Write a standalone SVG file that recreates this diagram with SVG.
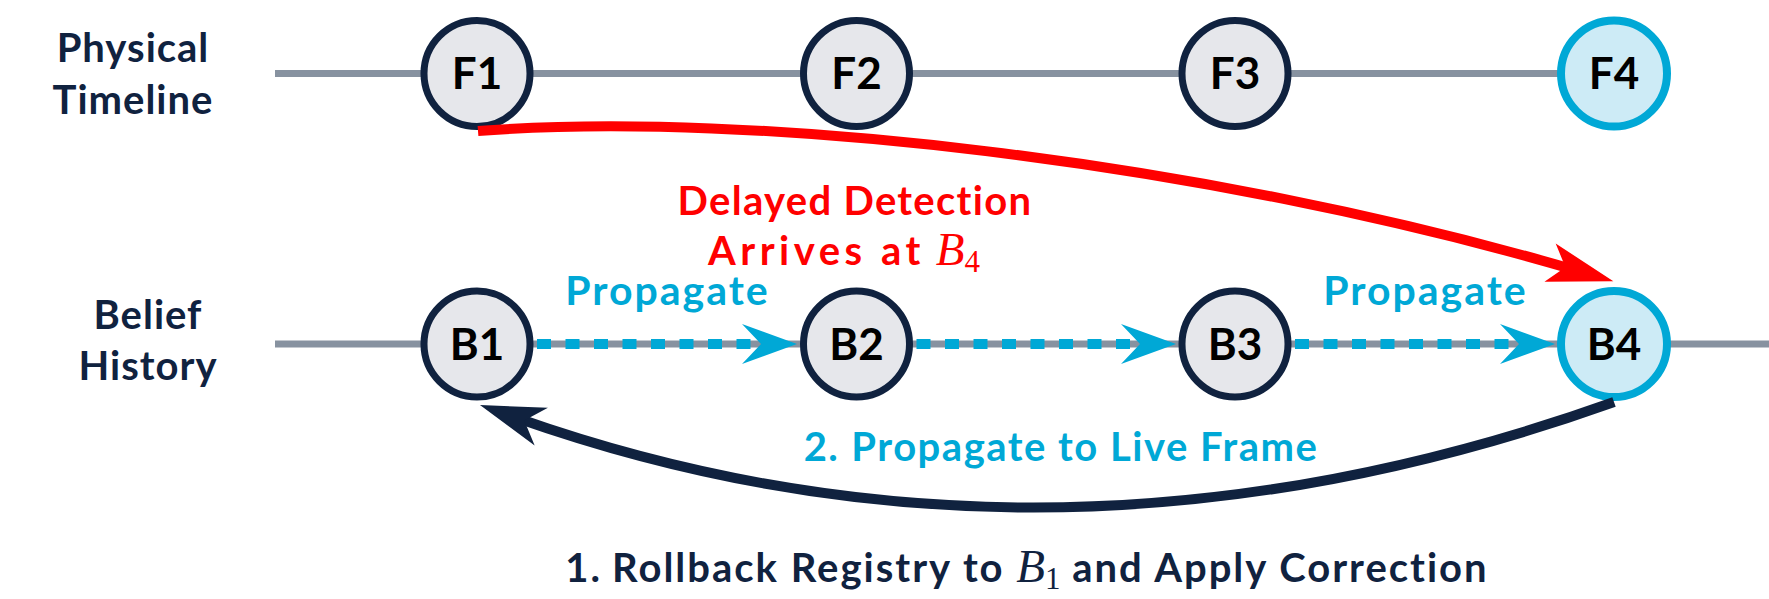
<svg xmlns="http://www.w3.org/2000/svg" width="1769" height="599" viewBox="0 0 1769 599">
  <style>
    .lbl { font-family: Lato, "Liberation Sans", sans-serif; font-weight: 700; }
    .side { font-size: 40px; fill: #10223f; text-anchor: middle; letter-spacing: 1px; }
    .node { font-size: 44px; fill: #000; text-anchor: middle; }
    .blue { font-size: 41px; fill: #00a8d6; text-anchor: middle; letter-spacing: 2px; }
    .blue2 { font-size: 40px; fill: #00a8d6; text-anchor: middle; letter-spacing: 1.5px; }
    .red { font-size: 40px; fill: #ff0000; text-anchor: middle; letter-spacing: 1.3px; }
    .dark { font-size: 40px; fill: #10223f; text-anchor: middle; letter-spacing: 2px; }
    .math { font-family: "Liberation Serif", "DejaVu Serif", serif; font-style: italic; font-weight: 400; font-size: 47px; letter-spacing: 0; }
    .sub { font-family: "Liberation Serif", "DejaVu Serif", serif; font-style: normal; font-weight: 400; font-size: 31px; letter-spacing: 0; }
    .circ { fill: #e6e7eb; stroke: #10223f; stroke-width: 7; }
    .circ.hl { fill: #cdebf6; stroke: #00a8d6; stroke-width: 8; }
    .base { stroke: #8792a0; stroke-width: 7; fill: none; }
    .dash { stroke: #00a8d6; stroke-width: 10; stroke-dasharray: 14 14.5; fill: none; }
  </style>
  <defs>
    <marker id="arrRed" markerUnits="userSpaceOnUse" viewBox="-30 -25 75 50" markerWidth="75" markerHeight="50" refX="0" refY="0" orient="auto" overflow="visible">
      <path d="M40,0 L-26,-20 L-10,0 L-26,20 Z" fill="#ff0000"/>
    </marker>
    <marker id="arrDark" markerUnits="userSpaceOnUse" viewBox="-30 -25 75 50" markerWidth="75" markerHeight="50" refX="0" refY="0" orient="auto" overflow="visible">
      <path d="M40,0 L-25,-20 L-7,0 L-25,20 Z" fill="#10223f"/>
    </marker>
    <marker id="arrBlue" markerUnits="userSpaceOnUse" viewBox="-30 -25 65 50" markerWidth="65" markerHeight="50" refX="0" refY="0" orient="auto" overflow="visible">
      <path d="M30,0 L-25,-20 L-6,0 L-25,20 Z" fill="#00a8d6"/>
    </marker>
  </defs>

  <g id="side-labels" class="lbl">
    <text class="side" x="133" y="62">Physical</text>
    <text class="side" x="133" y="114">Timeline</text>
    <text class="side" x="148" y="329">Belief</text>
    <text class="side" x="148" y="380">History</text>
  </g>

  <g id="timelines">
    <line class="base" x1="275" y1="73.5" x2="1614" y2="73.5"/>
    <line class="base" x1="275" y1="344" x2="1769" y2="344"/>
  </g>

  <g id="F1"><circle class="circ" cx="477" cy="73.5" r="53"/><text class="lbl node" x="477" y="89">F1</text></g>
  <g id="F2"><circle class="circ" cx="856.5" cy="73.5" r="53"/><text class="lbl node" x="856.5" y="89">F2</text></g>
  <g id="F3"><circle class="circ" cx="1235" cy="73.5" r="53"/><text class="lbl node" x="1235" y="89">F3</text></g>
  <g id="F4"><circle class="circ hl" cx="1614" cy="73.5" r="53"/><text class="lbl node" x="1614" y="89">F4</text></g>

  <g id="B1"><circle class="circ" cx="477" cy="344" r="53"/><text class="lbl node" x="477" y="360">B1</text></g>
  <g id="B2"><circle class="circ" cx="856.5" cy="344" r="53"/><text class="lbl node" x="856.5" y="360">B2</text></g>
  <g id="B3"><circle class="circ" cx="1235" cy="344" r="53"/><text class="lbl node" x="1235" y="360">B3</text></g>
  <g id="B4"><circle class="circ hl" cx="1614" cy="344" r="53"/><text class="lbl node" x="1614" y="360">B4</text></g>

  <g id="connectors">
    <path class="dash" d="M537,344 L767,344" marker-end="url(#arrBlue)"/>
    <path class="dash" d="M916.5,344 L1146,344" marker-end="url(#arrBlue)"/>
    <path class="dash" d="M1295,344 L1525,344" marker-end="url(#arrBlue)"/>
    <path d="M478,131 C750,110 1200,160 1575,270" fill="none" stroke="#ff0000" stroke-width="10" marker-end="url(#arrRed)"/>
    <path d="M1614,402 Q1047,604.5 517.7,418.3" fill="none" stroke="#10223f" stroke-width="10" marker-end="url(#arrDark)"/>
  </g>

  <g id="labels" class="lbl">
    <text class="blue" x="667.5" y="305">Propagate</text>
    <text class="blue" x="1425.5" y="305">Propagate</text>
    <text class="red" x="855" y="215">Delayed Detection</text>
    <text class="red" x="844" y="265"><tspan letter-spacing="4.5">Arrives at</tspan><tspan class="math" dx="11">B</tspan><tspan class="sub" dy="7">4</tspan></text>
    <text class="blue2" x="1061" y="461">2.<tspan dx="12">Propagate to Live Frame</tspan></text>
    <text class="dark" x="1027" y="582">1.<tspan dx="10">Rollback Registry to </tspan><tspan class="math">B</tspan><tspan class="sub" dy="7">1</tspan><tspan dy="-7"> and Apply Correction</tspan></text>
  </g>
</svg>
